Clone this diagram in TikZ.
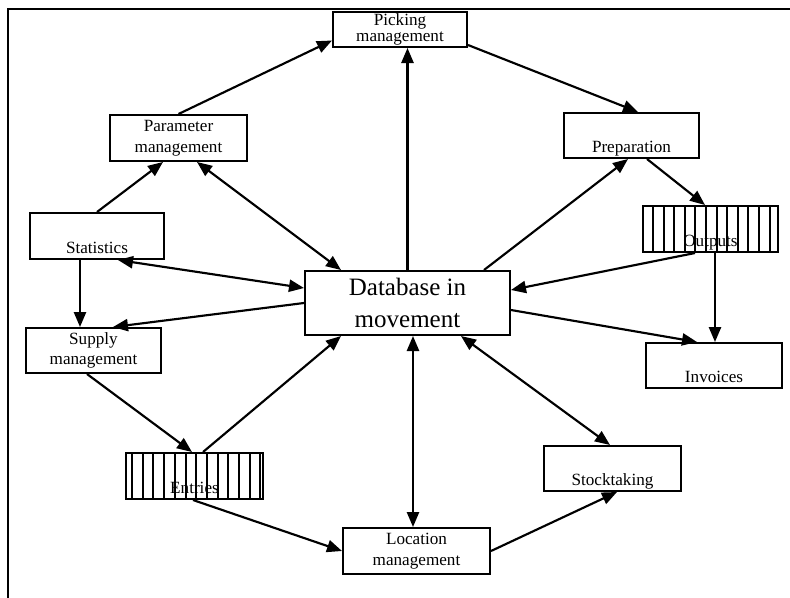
\documentclass[tikz,border=0pt]{standalone}
\usepackage{fontspec}
\setmainfont{Liberation Serif}
\usetikzlibrary{calc,arrows.meta}

\tikzset{
  box/.style 2 args={draw, line width=1.4pt, inner sep=0pt, align=center,
    minimum width=#1*0.7pt, minimum height=#2*0.7pt, font=\fontsize{12}{14.5}\selectfont},
  % single-line caption sitting in the lower part of its box
  low/.style={label={[anchor=base, inner sep=0pt, yshift=4.6pt,
    font=\fontsize{12}{14.5}\selectfont]south:#1}},
  link/.style={line width=1.5pt, -{Triangle[length=10.5pt,width=8.5pt]}},
  both/.style={line width=1.5pt, {Triangle[length=10.5pt,width=8.5pt]}-{Triangle[length=10.5pt,width=8.5pt]}},
  stripe/.style={line width=1.4pt}
}

\begin{document}
\begin{tikzpicture}[x=0.7pt, y=-0.7pt]
\useasboundingbox (0,0) rectangle (790,597);

% outer frame (only top and left edges fall on the page)
\draw[line width=1.2pt] (8,610) -- (8,9) -- (800,9);

% hatched boxes: stripes first, then the framed node on top
\foreach \k in {0,...,11} \draw[stripe] (653+\k*10.6,206) -- (653+\k*10.6,252);
\foreach \k in {0,...,12} \draw[stripe] (132+\k*10.7,453) -- (132+\k*10.7,499);

% nodes
\node[box={134}{35}, font=\fontsize{12}{11}\selectfont] (pick) at (400,29.5) {Picking\\management};
\node[box={137}{46}] (param) at (178.5,138) {Parameter\\management};
\node[box={134}{46}, low=Statistics] (stat) at (97,236) {};
\node[box={135}{45}] (supply) at (93.5,350.5) {Supply\\management};
\node[box={135}{45}, low=Preparation] (prep) at (631.5,135.5) {};
\node[box={135}{46}, low=Outputs] (outputs) at (710.5,229) {};
\node[box={205}{64}, font=\fontsize{17.5}{22}\selectfont] (db) at (407.5,303) {Database in\\movement};
\node[box={136}{45}, low=Invoices] (invoices) at (714,365.5) {};
\node[box={137}{46}, low=Entries] (entries) at (194.5,476) {};
\node[box={137}{45}, low=Stocktaking] (stock) at (612.5,468.5) {};
\node[box={147}{46}] (loc) at (416.5,551) {Location\\management};

% connectors
\draw[link] (param.north) -- ($(pick.west)+(0,11)$);
\draw[link] ($(pick.south east)+(0,-3)$) -- ($(prep.north)+(6.5,0)$);
\draw[link] (db.north) -- (db.north |- pick.south);
\draw[both] ($(param.south)+(18.5,0)$) -- ($(db.north west)+(37,0)$);
\draw[both] ($(stat.south)+(21,0)$) -- ($(db.west)+(0,-15)$);
\draw[link] (stat.north) -- ($(param.south)+(-15.5,0)$);
\draw[link] ($(stat.south)+(-17,0)$) -- ($(supply.north)+(-13.5,0)$);
\draw[link] (db.west) -- ($(supply.north)+(19.5,0)$);
\draw[link] ($(supply.south)+(-6.5,0)$) -- ($(entries.north)+(-2.5,0)$);
\draw[link] ($(entries.north)+(8.5,0)$) -- ($(db.south west)+(37,0)$);
\draw[link] ($(entries.south)+(-1.5,0)$) -- (loc.west);
\coordinate (dbb) at ($(db.south)+(5.5,0)$);
\draw[both] (dbb) -- (dbb |- loc.north);
\draw[link] (loc.east) -- ($(stock.south)+(4.5,0)$);
\draw[both] ($(db.south east)+(-50,0)$) -- ($(stock.north)+(-2.5,0)$);
\draw[link] ($(db.east)+(0,7)$) -- ($(invoices.north west)+(52,0)$);
\draw[link] ($(outputs.south)+(-15.5,0)$) -- ($(db.east)+(0,-13)$);
\coordinate (outb) at ($(outputs.south)+(4.5,0)$);
\draw[link] (outb) -- (outb |- invoices.north);
\draw[link] ($(prep.south)+(15.5,0)$) -- ($(outputs.north)+(-5.5,0)$);
\draw[link] ($(db.north east)+(-27,0)$) -- ($(prep.south)+(-3.5,0)$);
\end{tikzpicture}
\end{document}
